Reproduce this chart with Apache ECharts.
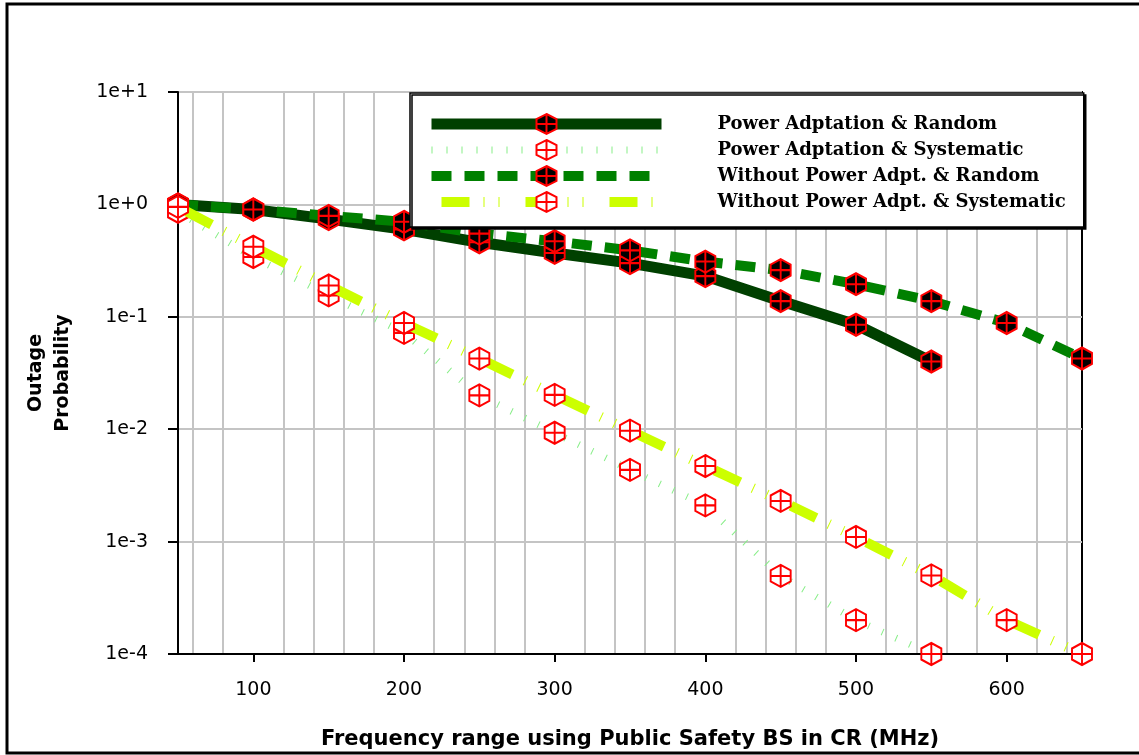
<!DOCTYPE html>
<html>
<head>
<meta charset="utf-8">
<script src="https://cdn.jsdelivr.net/npm/echarts@6/dist/echarts.min.js"></script>
<style>
html,body{margin:0;padding:0;background:#fff;}
#chart{width:1139px;height:755px;}
</style>
</head>
<body>
<div id="chart"></div>
<script>
// ---- data ----
const seriesNames = [
  'Power Adptation & Random',
  'Power Adptation & Systematic',
  'Without Power Adpt. & Random',
  'Without Power Adpt. & Systematic'
];
const xShort = [50, 100, 150, 200, 250, 300, 350, 400, 450, 500, 550];
const xLong = [50, 100, 150, 200, 250, 300, 350, 400, 450, 500, 550, 600, 650];
const powerRandom = [1.0, 0.9, 0.74, 0.60, 0.46, 0.37, 0.30, 0.23, 0.138, 0.085, 0.040];
const powerSystematic = [0.86, 0.34, 0.155, 0.072, 0.020, 0.0093, 0.00435, 0.0021, 0.000495, 0.0002, 0.0001];
const withoutRandom = [1.0, 0.9, 0.79, 0.70, 0.55, 0.47, 0.39, 0.31, 0.26, 0.195, 0.138, 0.088, 0.0426];
const withoutSystematic = [0.95, 0.42, 0.19, 0.088, 0.0425, 0.0202, 0.0097, 0.0047, 0.0023, 0.0011, 0.0005, 0.0002, 0.0001];
const xTickValues = [100, 200, 300, 400, 500, 600];
const yTickLabels = ['1e-4', '1e-3', '1e-2', '1e-1', '1e+0', '1e+1'];
const xAxisTitle = 'Frequency range using Public Safety BS in CR (MHz)';
const yAxisTitle = 'Outage\nProbability';

// ---- chart ----
const pair = (xs, ys) => ys.map((v, i) => [xs[i], v]);
const hexCross = 'path://M10 0L20 6L20 18L10 24L0 18L0 6Z M10 0L10 24 M0 12L20 12';
const G = '#c4c4c4', T = 'rgba(0,0,0,0)';
// vertical grid every 20 units, none on the hundreds (ticks at 50,60,70,... cycle this pattern)
const vGridColors = [T, G, T, G, T, T, T, G, T, G];

const chart = echarts.init(document.getElementById('chart'), null, {renderer: 'canvas'});
const sansFont = 'DejaVu Sans';

const option = {
  backgroundColor: '#fff',
  animation: false,
  graphic: [{
    type: 'rect', silent: true, z: 100,
    shape: {x: 7, y: 4, width: 1140, height: 749},
    style: {fill: 'none', stroke: '#000', lineWidth: 3}
  }],
  grid: {
    left: 178, right: 57, top: 92, bottom: 97,
    show: true, borderColor: '#000', borderWidth: 2, backgroundColor: 'transparent'
  },
  legend: {
    z: 20,
    left: 410, top: 93,
    orient: 'vertical',
    selectedMode: false,
    itemWidth: 230, itemHeight: 25, itemGap: 4,
    padding: [20, 18, 14, 16],
    backgroundColor: '#fff',
    borderColor: '#000', borderWidth: 1.5,
    shadowColor: '#000', shadowBlur: 0, shadowOffsetX: 2, shadowOffsetY: 2,
    lineStyle: {width: 'inherit', type: 'inherit'},
    textStyle: {
      fontFamily: 'DejaVu Serif', fontWeight: 'bold', fontSize: 18, color: '#000',
      padding: [0, 0, 0, 51]
    },
    data: seriesNames
  },
  xAxis: [{
    type: 'value', min: 50, max: 650,
    name: xAxisTitle, nameLocation: 'middle', nameGap: 75,
    nameTextStyle: {fontFamily: sansFont, fontWeight: 'bold', fontSize: 21, color: '#000'},
    axisLine: {show: true, onZero: false, lineStyle: {color: '#000', width: 2}},
    axisTick: {show: true, inside: false, length: 8, customValues: xTickValues, lineStyle: {color: '#000', width: 2}},
    axisLabel: {customValues: xTickValues, margin: 27, fontFamily: sansFont, fontSize: 19, color: '#000'},
    splitLine: {show: false}
  }, {
    type: 'value', min: 50, max: 650, interval: 10, position: 'bottom',
    axisLine: {show: false},
    axisTick: {show: false},
    axisLabel: {show: false},
    splitLine: {show: true, lineStyle: {color: vGridColors, width: 2}}
  }],
  yAxis: {
    type: 'log', logBase: 10, min: 0.0001, max: 10,
    name: yAxisTitle, nameLocation: 'middle', nameGap: 101, nameRotate: 90,
    nameTextStyle: {fontFamily: sansFont, fontWeight: 'bold', fontSize: 19, color: '#000', lineHeight: 27, align: 'center'},
    axisLine: {show: true, lineStyle: {color: '#000', width: 2}},
    axisTick: {show: true, inside: false, length: 10, lineStyle: {color: '#000', width: 2}},
    axisLabel: {
      margin: 30, fontFamily: sansFont, fontSize: 19, color: '#000',
      formatter: v => yTickLabels[Math.round(Math.log10(v)) + 4]
    },
    splitLine: {show: true, lineStyle: {color: G, width: 2}}
  },
  series: [{
    name: seriesNames[0], type: 'line',
    data: pair(xShort, powerRandom),
    symbol: hexCross, symbolSize: [20, 22], showAllSymbol: true, z: 2,
    lineStyle: {color: '#004000', width: 11, cap: 'butt'},
    itemStyle: {color: '#000', borderColor: '#ff0000', borderWidth: 2}
  }, {
    name: seriesNames[1], type: 'line',
    data: pair(xShort, powerSystematic),
    symbol: hexCross, symbolSize: [20, 22], showAllSymbol: true, z: 3,
    lineStyle: {color: '#88ee88', width: 7, type: [1, 14], cap: 'butt'},
    itemStyle: {color: '#fff', borderColor: '#ff0000', borderWidth: 2}
  }, {
    name: seriesNames[2], type: 'line',
    data: pair(xLong, withoutRandom),
    symbol: hexCross, symbolSize: [20, 22], showAllSymbol: true, z: 4,
    lineStyle: {color: '#008000', width: 10, type: [20, 13], cap: 'butt'},
    itemStyle: {color: '#000', borderColor: '#ff0000', borderWidth: 2}
  }, {
    name: seriesNames[3], type: 'line',
    data: pair(xLong, withoutSystematic),
    symbol: hexCross, symbolSize: [20, 22], showAllSymbol: true, z: 5,
    lineStyle: {color: '#ccff00', width: 10, type: [28, 14, 1, 14, 1, 26], dashOffset: 74, cap: 'butt'},
    itemStyle: {color: '#fff', borderColor: '#ff0000', borderWidth: 2}
  }]
};
chart.setOption(option);
</script>
</body>
</html>
